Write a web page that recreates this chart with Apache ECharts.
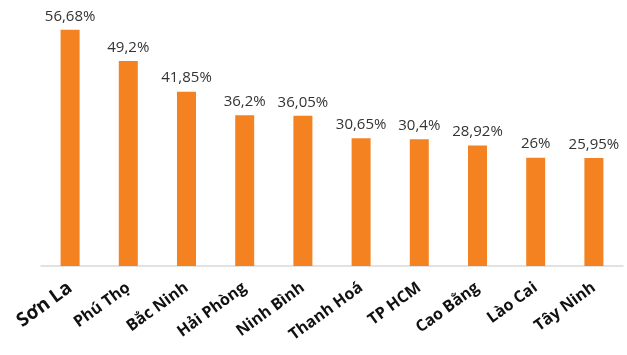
<!DOCTYPE html>
<html><head><meta charset="utf-8">
<script src="https://cdn.jsdelivr.net/npm/echarts@6/dist/echarts.min.js"></script>
<style>html,body{margin:0;padding:0;background:#fff}#c{width:627px;height:355px}</style>
</head><body><div id="c"></div>
<script>
const categories = ["Sơn La","Phú Thọ","Bắc Ninh","Hải Phòng","Ninh Bình","Thanh Hoá","TP HCM","Cao Bằng","Lào Cai","Tây Ninh"];
const values = [56.68,49.2,41.85,36.2,36.05,30.65,30.4,28.92,26,25.95];
const valueLabels = ["56,68%","49,2%","41,85%","36,2%","36,05%","30,65%","30,4%","28,92%","26%","25,95%"];
const chart = echarts.init(document.getElementById('c'));
chart.setOption({
  animation:false,
  grid:{left:41,right:4,top:16,bottom:89},
  xAxis:{type:'category',data:categories,
    axisLine:{lineStyle:{color:'#d9d9d9',width:1.5}},axisTick:{show:false},
    axisLabel:{rotate:36,interval:0,margin:20,color:'#111',fontFamily:'Open Sans',fontWeight:'bold',fontSize:16,
      formatter:(v,i)=> i===0 ? '{big|'+v+'}' : v,
      rich:{big:{fontSize:19,fontWeight:'bold',fontFamily:'Open Sans',color:'#111'}}}},
  yAxis:{type:'value',min:0,max:60,show:false,splitLine:{show:false}},
  series:[{type:'bar',data:values,barWidth:19,itemStyle:{color:'#f58220'},
    label:{show:true,position:'top',distance:6,color:'#333',fontFamily:'Open Sans',fontSize:15,
      formatter:p=>valueLabels[p.dataIndex]}}]
});
</script></body></html>
